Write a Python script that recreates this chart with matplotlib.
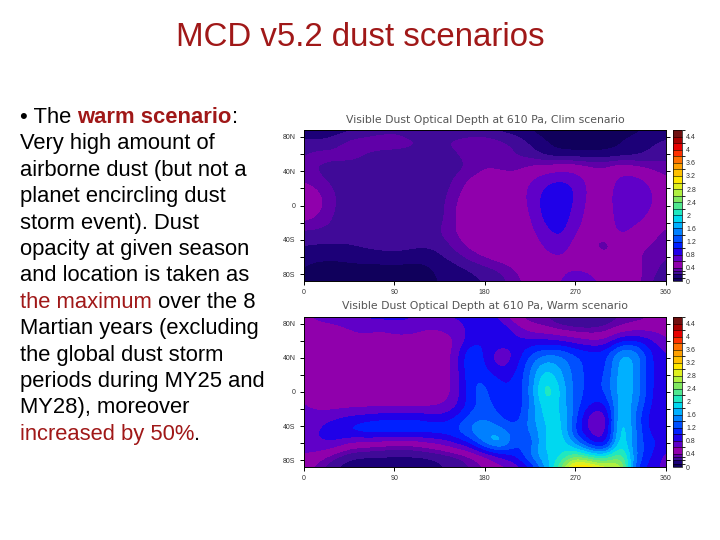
import numpy as np
import matplotlib
matplotlib.use('Agg')
import matplotlib.pyplot as plt
from matplotlib.colors import ListedColormap, BoundaryNorm

W, H = 720, 540
plt.rcParams['font.family'] = ['Liberation Sans', 'DejaVu Sans']

heading = 'MCD v5.2 dust scenarios'
clim_title = 'Visible Dust Optical Depth at 610 Pa, Clim scenario'
warm_title = 'Visible Dust Optical Depth at 610 Pa, Warm scenario'

# rows go from north to south, columns every 15 deg of Ls
lats = [90, 75, 60, 45, 30, 15, 0, -15, -30, -45, -60, -75, -90]
ls = [0, 15, 30, 45, 60, 75, 90, 105, 120, 135, 150, 165, 180, 195, 210, 225, 240, 255, 270, 285, 300, 315, 330, 345, 360]

clim = [
    [.12, .12, .13, .15, .20, .22, .25, .20, .20, .20, .20, .20, .20, .15, .12, .08, .05, .05, .05, .05, .05, .07, .08, .10, .12],
    [.22, .20, .24, .34, .36, .38, .38, .34, .30, .30, .33, .36, .36, .32, .28, .18, .10, .06, .05, .05, .06, .10, .12, .18, .22],
    [.30, .36, .34, .36, .30, .26, .25, .26, .26, .26, .28, .35, .42, .36, .30, .25, .15, .10, .10, .10, .10, .12, .16, .22, .28],
    [.32, .28, .26, .25, .25, .25, .25, .25, .25, .25, .26, .30, .38, .36, .34, .42, .45, .48, .50, .42, .42, .50, .42, .36, .32],
    [.38, .32, .26, .24, .24, .24, .24, .24, .24, .25, .30, .42, .50, .50, .48, .58, .72, .82, .72, .52, .45, .68, .68, .55, .42],
    [.50, .42, .30, .24, .24, .24, .24, .24, .24, .25, .34, .50, .50, .50, .48, .64, .88, .98, .80, .52, .48, .74, .76, .62, .45],
    [.52, .45, .30, .24, .24, .24, .24, .24, .24, .25, .40, .50, .50, .50, .48, .62, .92, 1.0, .75, .50, .46, .76, .78, .62, .45],
    [.45, .38, .28, .24, .24, .24, .24, .24, .24, .25, .40, .50, .50, .50, .48, .56, .88, .96, .68, .50, .45, .72, .68, .52, .42],
    [.28, .28, .27, .26, .26, .26, .26, .26, .26, .30, .40, .50, .60, .62, .50, .52, .75, .90, .60, .50, .48, .68, .52, .45, .38],
    [.22, .20, .20, .20, .22, .24, .24, .24, .22, .24, .34, .45, .50, .50, .50, .50, .62, .75, .50, .42, .30, .50, .45, .40, .35],
    [.12, .12, .12, .14, .16, .16, .18, .15, .14, .18, .25, .34, .42, .48, .50, .50, .55, .60, .50, .50, .42, .50, .42, .35, .30],
    [.10, .06, .05, .05, .05, .05, .05, .05, .06, .12, .15, .20, .25, .30, .40, .50, .50, .50, .55, .50, .50, .50, .45, .35, .25],
    [.10, .07, .05, .05, .05, .05, .05, .06, .08, .10, .12, .16, .20, .25, .35, .45, .50, .55, 1.0, .70, .50, .55, .45, .30, .20],
]

warm = [
    [.55, .70, .70, .75, .85, .90, .90, .85, .80, .80, .85, .85, .95, .70, .40, .30, .30, .20, .20, .20, .20, .30, .30, .40, .50],
    [.50, .50, .55, .60, .70, .60, .70, .70, .60, .60, .70, .85, .95, 1.0, .70, .45, .40, .30, .25, .25, .30, .40, .50, .50, .50],
    [.50, .52, .50, .50, .50, .50, .50, .50, .50, .50, .55, .90, 1.0, .95, .90, .85, .85, .80, .70, .60, .60, 1.0, 1.0, .85, .60],
    [.50, .50, .50, .50, .50, .50, .50, .50, .50, .50, .60, 1.3, .95, .60, .80, 1.2, 1.4, 1.4, 1.2, 1.1, 1.1, 1.7, 1.6, 1.0, .80],
    [.60, .50, .50, .50, .50, .50, .50, .50, .52, .50, .60, 1.3, 1.0, .70, .90, 1.4, 1.8, 1.6, 1.3, 1.1, 1.1, 1.8, 1.6, 1.0, .80],
    [.60, .52, .50, .50, .50, .50, .50, .50, .60, .50, .60, 1.2, 1.2, 1.0, 1.0, 1.4, 2.1, 1.7, 1.3, 1.1, 1.2, 1.8, 1.6, 1.0, .80],
    [.60, .55, .50, .50, .50, .50, .50, .50, .55, .50, .60, 1.2, 1.3, 1.0, 1.0, 1.4, 2.3, 1.8, 1.3, 1.1, 1.2, 1.8, 1.6, 1.0, .80],
    [.60, .50, .50, .50, .50, .50, .50, .50, .50, .55, .70, 1.1, 1.3, 1.1, 1.0, 1.4, 2.0, 1.8, 1.3, 1.0, .90, 1.9, 1.5, .95, .80],
    [.70, .70, .75, .85, .90, .95, 1.0, 1.0, .95, .85, 1.0, 1.3, 1.4, 1.2, 1.0, 1.5, 1.9, 1.9, 1.3, .60, .50, 2.1, 1.3, .90, .80],
    [.70, .80, 1.0, 1.1, 1.2, 1.25, 1.2, 1.2, 1.2, 1.2, 1.2, 1.5, 1.6, 1.5, 1.3, 1.4, 1.8, 2.0, 1.1, .70, .55, 2.2, 1.4, .90, .80],
    [.75, .80, .80, .55, .50, .45, .40, .40, .50, .60, .80, 1.0, 1.6, 1.9, 1.2, 1.2, 1.9, 2.0, 1.5, 1.0, .70, 2.2, 1.3, 1.1, .90],
    [.55, .50, .30, .20, .18, .18, .18, .18, .18, .20, .25, .35, .50, .80, 1.0, 1.5, 1.8, 1.9, 2.4, 2.0, 1.9, 2.5, 1.4, 1.0, .70],
    [.50, .30, .20, .15, .15, .15, .15, .15, .15, .20, .20, .30, .40, .50, .60, .90, 1.6, 2.4, 3.6, 3.4, 3.0, 3.0, 1.1, .90, .70],
]

levels = [0, .1, .2, .3, .4, .6, .8, 1.0, 1.2, 1.4, 1.6, 1.8, 2.0, 2.2, 2.4, 2.6, 2.8, 3.0, 3.2, 3.4, 3.6, 3.8, 4.0, 4.2, 4.4, 4.6]
colors = ['#10005c', '#1c0078', '#400a98', '#6000a8', '#9000ac', '#6000c8', '#2000e8', '#0020ff', '#0050ff',
          '#0080ff', '#00b0ff', '#00d8f0', '#20e8c0', '#50e890', '#80e860', '#b0f040', '#e0f020', '#ffe800',
          '#ffc000', '#ffa000', '#ff7000', '#ff3000', '#e80000', '#a80000', '#701010']
cbar_ticks = [0, .4, .8, 1.2, 1.6, 2, 2.4, 2.8, 3.2, 3.6, 4, 4.4]
cbar_labels = ['0', '0.4', '0.8', '1.2', '1.6', '2', '2.4', '2.8', '3.2', '3.6', '4', '4.4']
ls_ticks = [0, 90, 180, 270, 360]
lat_ticks = [-80, -60, -40, -20, 0, 20, 40, 60, 80]
lat_labels = ['80S', '', '40S', '', '0', '', '40N', '', '80N']

cmap = ListedColormap(colors)
norm = BoundaryNorm(levels, cmap.N)


def box(x0, y0, x1, y1):
    # pixel box (y from the top) to figure fractions
    return [x0 / W, 1 - y1 / H, (x1 - x0) / W, (y1 - y0) / H]


def panel(y0, y1, values, title, title_y):
    ax = fig.add_axes(box(304, y0, 665.5, y1))
    # half a cell around the outer columns and rows, the limits below clip them
    im = ax.imshow(values, cmap=cmap, norm=norm, aspect='auto', interpolation='bicubic',
                   interpolation_stage='data',
                   extent=[ls[0] - 7.5, ls[-1] + 7.5, lats[-1] - 7.5, lats[0] + 7.5])
    ax.set_xlim(0, 360)
    ax.set_ylim(-88, 88)
    ax.set_xticks(ls_ticks)
    ax.set_yticks(lat_ticks)
    ax.set_yticklabels(lat_labels)
    ax.tick_params(length=3, width=0.7, labelsize=5, labelcolor='#333333', pad=3, right=True)
    for s in ax.spines.values():
        s.set_linewidth(0.7)
    fig.text(485 / W, 1 - title_y / H, title, ha='center', va='center', fontsize=7.8,
             family='DejaVu Sans', color='#555555')

    cax = fig.add_axes(box(672.5, y0, 682, y1))
    cb = fig.colorbar(im, cax=cax, spacing='proportional', drawedges=True)
    cb.dividers.set_linewidth(0.4)
    cb.outline.set_linewidth(0.5)
    cb.set_ticks(cbar_ticks, labels=cbar_labels)
    cb.ax.set_ylim(0, 4.6)
    cb.ax.tick_params(length=0, labelsize=5, labelcolor='#333333', pad=3)
    return ax


fig = plt.figure(figsize=(W / 100, H / 100), dpi=100)
fig.text(360 / W, 1 - 37 / H, heading, ha='center', va='center', fontsize=23.8, color='#a01818')

# full figure layer just for the text lines with mixed colours
tax = fig.add_axes([0, 0, 1, 1])
tax.axis('off')

RED = '#a01818'
body = [
    [('\u2022 The ', 'k', 'normal'), ('warm scenario', RED, 'bold'), (':', 'k', 'normal')],
    [('Very high amount of', 'k', 'normal')],
    [('airborne dust (but not a', 'k', 'normal')],
    [('planet encircling dust', 'k', 'normal')],
    [('storm event). Dust', 'k', 'normal')],
    [('opacity at given season', 'k', 'normal')],
    [('and location is taken as', 'k', 'normal')],
    [('the maximum', RED, 'normal'), (' over the 8', 'k', 'normal')],
    [('Martian years (excluding', 'k', 'normal')],
    [('the global dust storm', 'k', 'normal')],
    [('periods during MY25 and', 'k', 'normal')],
    [('MY28), moreover', 'k', 'normal')],
    [('increased by 50%', RED, 'normal'), ('.', 'k', 'normal')],
]
line_y = 123
for parts in body:
    prev = None
    for txt, col, wt in parts:
        if prev is None:
            prev = tax.text(20 / W, 1 - line_y / H, txt, ha='left', va='baseline', transform=fig.transFigure,
                            fontsize=15.8, color=col, weight=wt)
        else:
            # start where the previous piece of the line stopped
            prev = tax.annotate(txt, xy=(1, 0), xycoords=prev, fontsize=15.8, color=col, weight=wt,
                                ha='left', va='bottom', annotation_clip=False)
    line_y += 26.4

panel(130, 281, clim, clim_title, 120)
panel(317, 467, warm, warm_title, 306)

fig.savefig('out.png', dpi=100)
